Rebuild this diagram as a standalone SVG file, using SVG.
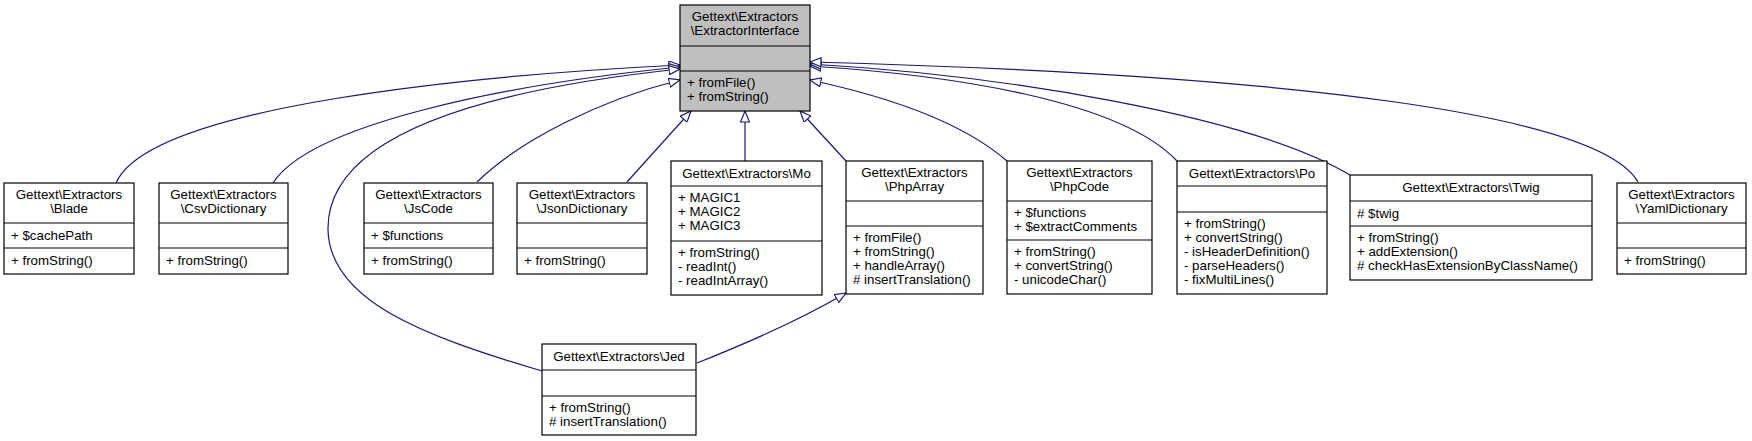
<svg xmlns="http://www.w3.org/2000/svg" width="1752" height="441" viewBox="0 0 1752 441">
<style>
text{font-family:"Liberation Sans",Arial,sans-serif;font-size:13.3px;fill:#000}
.c{text-anchor:middle}
.box{fill:#fff;stroke:#000;stroke-width:1.2}
.root{fill:#bfbfbf;stroke:#000;stroke-width:1.2}
.sep{stroke:#000;stroke-width:1.2}
.e{fill:none;stroke:#191970;stroke-width:1.2;marker-end:url(#tri)}
</style>
<defs>
<marker id="tri" viewBox="0 0 12 10" refX="11.5" refY="5" markerWidth="12" markerHeight="10" markerUnits="userSpaceOnUse" orient="auto">
<path d="M0.5,0.5 L11.5,5 L0.5,9.5 Z" fill="#fff" stroke="#191970" stroke-width="1.2"/>
</marker>
</defs>
<rect width="1752" height="441" fill="#fff"/>
<g id="connectors">
<path class="e" d="M116,183 C150,105 480,75 680,65"/>
<path class="e" d="M273,183 C310,125 500,85 680,67"/>
<path class="e" d="M542,371 C420,335 330,300 328,230 C326,130 500,88 680,69"/>
<path class="e" d="M477,182 C520,140 600,100 680,80"/>
<path class="e" d="M627,182 L691,111"/>
<path class="e" d="M745,161 L745,111"/>
<path class="e" d="M846,161 L800,111"/>
<path class="e" d="M1007,161 C960,120 880,95 810,80"/>
<path class="e" d="M1177,161 C1120,100 950,75 810,66"/>
<path class="e" d="M1350,175 C1250,115 1000,75 810,64"/>
<path class="e" d="M1638,182 C1600,115 1300,75 810,62"/>
<path class="e" d="M697,363 C750,342 800,320 846,293"/>
</g>
<g id="ExtractorInterface">
<rect class="root" x="680" y="5" width="130" height="106"/>
<line class="sep" x1="680" y1="46" x2="810" y2="46"/><line class="sep" x1="680" y1="71" x2="810" y2="71"/>
<text class="c" x="745" y="21">Gettext\Extractors</text><text class="c" x="745" y="35">\ExtractorInterface</text>
<text x="687" y="87">+ fromFile()</text><text x="687" y="101">+ fromString()</text>
</g>
<g id="Blade">
<rect class="box" x="4" y="183" width="130" height="91"/>
<line class="sep" x1="4" y1="223" x2="134" y2="223"/><line class="sep" x1="4" y1="248" x2="134" y2="248"/>
<text class="c" x="69" y="199">Gettext\Extractors</text><text class="c" x="69" y="213">\Blade</text>
<text x="11" y="240">+ $cachePath</text><text x="11" y="265">+ fromString()</text>
</g>
<g id="CsvDictionary">
<rect class="box" x="159" y="183" width="129" height="91"/>
<line class="sep" x1="159" y1="223" x2="288" y2="223"/><line class="sep" x1="159" y1="248" x2="288" y2="248"/>
<text class="c" x="223.5" y="199">Gettext\Extractors</text><text class="c" x="223.5" y="213">\CsvDictionary</text>
<text x="166" y="265">+ fromString()</text>
</g>
<g id="JsCode">
<rect class="box" x="364" y="183" width="129" height="91"/>
<line class="sep" x1="364" y1="223" x2="493" y2="223"/><line class="sep" x1="364" y1="248" x2="493" y2="248"/>
<text class="c" x="428.5" y="199">Gettext\Extractors</text><text class="c" x="428.5" y="213">\JsCode</text>
<text x="371" y="240">+ $functions</text><text x="371" y="265">+ fromString()</text>
</g>
<g id="JsonDictionary">
<rect class="box" x="517" y="183" width="130" height="91"/>
<line class="sep" x1="517" y1="223" x2="647" y2="223"/><line class="sep" x1="517" y1="248" x2="647" y2="248"/>
<text class="c" x="582" y="199">Gettext\Extractors</text><text class="c" x="582" y="213">\JsonDictionary</text>
<text x="524" y="265">+ fromString()</text>
</g>
<g id="Mo">
<rect class="box" x="671" y="161" width="151" height="134"/>
<line class="sep" x1="671" y1="186" x2="822" y2="186"/><line class="sep" x1="671" y1="241" x2="822" y2="241"/>
<text class="c" x="746.5" y="178">Gettext\Extractors\Mo</text>
<text x="678" y="202">+ MAGIC1</text><text x="678" y="216">+ MAGIC2</text><text x="678" y="230">+ MAGIC3</text>
<text x="678" y="257">+ fromString()</text><text x="678" y="271">- readInt()</text><text x="678" y="285">- readIntArray()</text>
</g>
<g id="PhpArray">
<rect class="box" x="846" y="161" width="137" height="133"/>
<line class="sep" x1="846" y1="201" x2="983" y2="201"/><line class="sep" x1="846" y1="226" x2="983" y2="226"/>
<text class="c" x="914.5" y="177">Gettext\Extractors</text><text class="c" x="914.5" y="191">\PhpArray</text>
<text x="853" y="242">+ fromFile()</text><text x="853" y="256">+ fromString()</text><text x="853" y="270">+ handleArray()</text><text x="853" y="284"># insertTranslation()</text>
</g>
<g id="PhpCode">
<rect class="box" x="1007" y="161" width="145" height="133"/>
<line class="sep" x1="1007" y1="201" x2="1152" y2="201"/><line class="sep" x1="1007" y1="240" x2="1152" y2="240"/>
<text class="c" x="1079.5" y="177">Gettext\Extractors</text><text class="c" x="1079.5" y="191">\PhpCode</text>
<text x="1014" y="217">+ $functions</text><text x="1014" y="231">+ $extractComments</text>
<text x="1014" y="256">+ fromString()</text><text x="1014" y="270">+ convertString()</text><text x="1014" y="284">- unicodeChar()</text>
</g>
<g id="Po">
<rect class="box" x="1177" y="161" width="150" height="133"/>
<line class="sep" x1="1177" y1="186" x2="1327" y2="186"/><line class="sep" x1="1177" y1="212" x2="1327" y2="212"/>
<text class="c" x="1252" y="178">Gettext\Extractors\Po</text>
<text x="1184" y="228">+ fromString()</text><text x="1184" y="242">+ convertString()</text><text x="1184" y="256">- isHeaderDefinition()</text><text x="1184" y="270">- parseHeaders()</text><text x="1184" y="284">- fixMultiLines()</text>
</g>
<g id="Twig">
<rect class="box" x="1350" y="175" width="242" height="105"/>
<line class="sep" x1="1350" y1="201" x2="1592" y2="201"/><line class="sep" x1="1350" y1="226" x2="1592" y2="226"/>
<text class="c" x="1471" y="192">Gettext\Extractors\Twig</text>
<text x="1357" y="218"># $twig</text>
<text x="1357" y="242">+ fromString()</text><text x="1357" y="256">+ addExtension()</text><text x="1357" y="270"># checkHasExtensionByClassName()</text>
</g>
<g id="YamlDictionary">
<rect class="box" x="1617" y="183" width="129" height="91"/>
<line class="sep" x1="1617" y1="223" x2="1746" y2="223"/><line class="sep" x1="1617" y1="248" x2="1746" y2="248"/>
<text class="c" x="1681.5" y="199">Gettext\Extractors</text><text class="c" x="1681.5" y="213">\YamlDictionary</text>
<text x="1624" y="265">+ fromString()</text>
</g>
<g id="Jed">
<rect class="box" x="542" y="344" width="154" height="91"/>
<line class="sep" x1="542" y1="370" x2="696" y2="370"/><line class="sep" x1="542" y1="396" x2="696" y2="396"/>
<text class="c" x="619" y="361">Gettext\Extractors\Jed</text>
<text x="549" y="412">+ fromString()</text><text x="549" y="426"># insertTranslation()</text>
</g>
</svg>
